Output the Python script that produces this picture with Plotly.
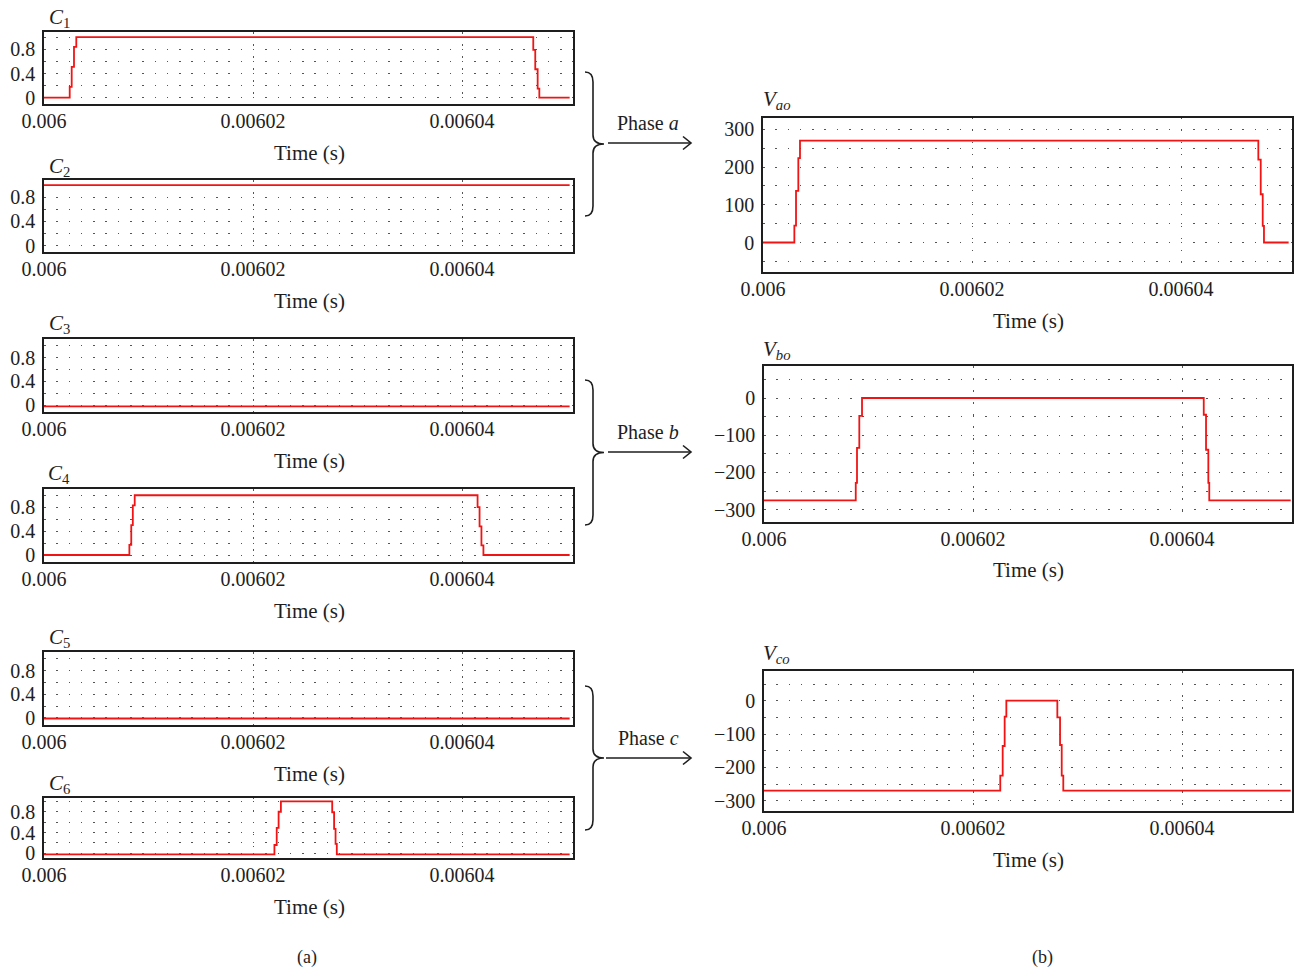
import plotly.graph_objects as go

W, H = 1294, 972
FONT = "Liberation Serif"
RED = "#f01414"
INK = "#1e1e1e"
DOT = "#555555"

# ---------------- data (time in s) ----------------
t_c1 = [0.006, 0.00600246, 0.00600265, 0.00600287, 0.00600309, 0.00604682, 0.00604701, 0.00604724, 0.00604740, 0.0060503]
v_c1 = [0, 0.18, 0.51, 0.84, 1.0, 0.79, 0.47, 0.15, 0, 0]

t_c2 = [0.006, 0.0060503]
v_c2 = [1.0, 1.0]

t_c3 = [0.006, 0.0060503]
v_c3 = [-0.02, -0.02]

t_c4 = [0.006, 0.00600817, 0.00600835, 0.00600850, 0.00600868, 0.00604149, 0.00604168, 0.00604186, 0.00604205, 0.0060503]
v_c4 = [0, 0.17, 0.50, 0.83, 1.0, 0.80, 0.48, 0.16, 0, 0]

t_c5 = [0.006, 0.0060503]
v_c5 = [-0.01, -0.01]

t_c6 = [0.006, 0.00602205, 0.00602227, 0.00602245, 0.00602267, 0.00602758, 0.00602776, 0.00602790, 0.00602802, 0.0060503]
v_c6 = [-0.02, 0.16, 0.49, 0.80, 1.0, 0.79, 0.47, 0.18, -0.02, -0.02]

t_vao = [0.006, 0.00600300, 0.00600316, 0.00600338, 0.00600354, 0.00604740, 0.00604763, 0.00604782, 0.00604794, 0.0060503]
v_vao = [0, 45, 137, 224, 270, 220, 128, 44, 0, 0]

t_vbo = [0.006, 0.00600878, 0.00600890, 0.00600912, 0.00600938, 0.00604208, 0.00604230, 0.00604252, 0.00604261, 0.0060504]
v_vbo = [-275, -228, -134, -48, 0, -45, -139, -228, -275, -275]

t_vco = [0.006, 0.00602261, 0.00602284, 0.00602303, 0.00602319, 0.00602807, 0.00602833, 0.00602849, 0.00602864, 0.0060504]
v_vco = [-270, -225, -136, -48, 0, -50, -133, -225, -270, -270]

x_tickvals = [0.006, 0.00602, 0.00604]
x_ticktext = ["0.006", "0.00602", "0.00604"]

c_tickvals = [0, 0.4, 0.8]
c_ticktext = ["0", "0.4", "0.8"]
vao_tickvals = [0, 100, 200, 300]
vao_ticktext = ["0", "100", "200", "300"]
vneg_tickvals = [0, -100, -200, -300]
vneg_ticktext = ["0", "\u2212100", "\u2212200", "\u2212300"]

# ---------------- panel layout (pixels) ----------------
panels = [
    ("C1", t_c1, v_c1, 44, 573.3, 32, 104.3, [-0.109, 1.086], c_tickvals, c_ticktext, 0.2,
     "<i>C</i><sub>1</sub>", (59, 18), 153),
    ("C2", t_c2, v_c2, 44, 573.3, 180, 252, [-0.104, 1.083], c_tickvals, c_ticktext, 0.2,
     "<i>C</i><sub>2</sub>", (59, 167), 301),
    ("C3", t_c3, v_c3, 44, 573.3, 339.3, 411.7, [-0.11, 1.11], c_tickvals, c_ticktext, 0.2,
     "<i>C</i><sub>3</sub>", (59, 324), 461),
    ("C4", t_c4, v_c4, 44, 573.3, 489.3, 562, [-0.117, 1.10], c_tickvals, c_ticktext, 0.2,
     "<i>C</i><sub>4</sub>", (59, 474), 611),
    ("C5", t_c5, v_c5, 44, 573.3, 652.3, 725, [-0.12, 1.11], c_tickvals, c_ticktext, 0.2,
     "<i>C</i><sub>5</sub>", (59, 638), 774),
    ("C6", t_c6, v_c6, 44, 573.3, 797.7, 858.3, [-0.096, 1.07], c_tickvals, c_ticktext, 0.2,
     "<i>C</i><sub>6</sub>", (59, 784), 907),
    ("Vao", t_vao, v_vao, 763, 1292, 117.7, 272.3, [-79, 331], vao_tickvals, vao_ticktext, 50,
     "<i>V<sub>ao</sub></i>", (777, 100), 321),
    ("Vbo", t_vbo, v_vbo, 764, 1292, 366, 522, [-333, 86], vneg_tickvals, vneg_ticktext, 50,
     "<i>V<sub>bo</sub></i>", (777, 350), 570),
    ("Vco", t_vco, v_vco, 764, 1292, 671, 811, [-331, 89], vneg_tickvals, vneg_ticktext, 50,
     "<i>V<sub>co</sub></i>", (776, 654), 860),
]

ROW_DASH = "1.5px,10.79px"
COL_DASH = "1.5px,10.5px"

fig = go.Figure()
layout = dict(
    width=W, height=H,
    margin=dict(l=0, r=0, t=0, b=0, pad=0),
    paper_bgcolor="white", plot_bgcolor="white",
    showlegend=False,
    font=dict(family=FONT, size=20, color=INK),
)
annotations = []

def px2x(x):
    return x / W

def px2y(y):
    return 1 - y / H

for i, (name, t, v, x0, x1, ytop, ybot, yr, tv, tt, mdt, title, (tx, ty), tly) in enumerate(panels):
    k = i + 1
    xa = "x" if k == 1 else f"x{k}"
    ya = "y" if k == 1 else f"y{k}"
    xkey = "xaxis" if k == 1 else f"xaxis{k}"
    ykey = "yaxis" if k == 1 else f"yaxis{k}"
    fig.add_trace(go.Scatter(x=t, y=v, mode="lines", line=dict(color=RED, width=1.8, shape="hv"),
                             xaxis=xa, yaxis=ya, hoverinfo="skip"))
    xr = [0.006, 0.006 + (x1 - x0) / 209.0 * 2e-5]
    layout[xkey] = dict(
        domain=[px2x(x0), px2x(x1)], anchor=ya, range=xr, automargin=False,
        tickvals=x_tickvals, ticktext=x_ticktext, ticks="",
        showgrid=True, gridcolor=DOT, gridwidth=1.2, griddash=COL_DASH,
        showline=True, mirror=True, linecolor=INK, linewidth=1.6,
        zeroline=False, ticklabelstandoff=-2,
        tickfont=dict(family=FONT, size=20, color=INK),
    )
    layout[ykey] = dict(
        domain=[px2y(ybot), px2y(ytop)], anchor=xa, range=yr, automargin=False,
        tickvals=tv, ticktext=tt, ticks="",
        showgrid=True, gridcolor=DOT, gridwidth=1.2, griddash=ROW_DASH,
        minor=dict(dtick=mdt, tick0=0, showgrid=True, gridcolor=DOT, gridwidth=1.2, griddash=ROW_DASH, ticks=""),
        showline=True, mirror=True, linecolor=INK, linewidth=1.6,
        zeroline=False, ticklabelstandoff=3,
        tickfont=dict(family=FONT, size=20, color=INK),
    )
    annotations.append(dict(text=title, x=px2x(tx), y=px2y(ty), xref="paper", yref="paper",
                            showarrow=False, xanchor="center", yanchor="middle",
                            font=dict(family=FONT, size=21, color=INK)))
    cx = 309 if x0 < 400 else 1028
    annotations.append(dict(text="Time (s)", x=px2x(cx), y=px2y(tly), xref="paper", yref="paper",
                            showarrow=False, xanchor="center", yanchor="middle",
                            font=dict(family=FONT, size=21, color=INK)))

shapes = []

def P(x, y):
    return f"{px2x(x):.6f},{px2y(y):.6f}"

def brace(top, bot, xs=585, xsp=593, xt=604):
    mid = (top + bot) / 2
    return ("M " + P(xs, top) + " Q " + P(xsp, top) + " " + P(xsp, top + 10) +
            " L " + P(xsp, mid - 9) + " Q " + P(xsp, mid) + " " + P(xt, mid) +
            " Q " + P(xsp, mid) + " " + P(xsp, mid + 9) +
            " L " + P(xsp, bot - 10) + " Q " + P(xsp, bot) + " " + P(xs, bot))

phase_items = [("Phase <i>a</i>", 72, 216, 143, 608), ("Phase <i>b</i>", 380, 525, 452, 608), ("Phase <i>c</i>", 686, 830, 758, 606)]
for label, top, bot, ay, ax0 in phase_items:
    shapes.append(dict(type="path", xref="paper", yref="paper", path=brace(top, bot),
                       line=dict(color=INK, width=1.6)))
    shapes.append(dict(type="line", xref="paper", yref="paper", x0=px2x(ax0), x1=px2x(691),
                       y0=px2y(ay), y1=px2y(ay), line=dict(color=INK, width=1.6)))
    shapes.append(dict(type="path", xref="paper", yref="paper",
                       path="M " + P(683, ay - 6.5) + " L " + P(691, ay) + " L " + P(683, ay + 6.5),
                       line=dict(color=INK, width=1.6)))
    annotations.append(dict(text=label, x=px2x(648), y=px2y(ay - 20), xref="paper", yref="paper",
                            showarrow=False, xanchor="center", yanchor="middle",
                            font=dict(family=FONT, size=20, color=INK)))

annotations.append(dict(text="(a)", x=px2x(307), y=px2y(957), xref="paper", yref="paper",
                        showarrow=False, xanchor="center", yanchor="middle",
                        font=dict(family=FONT, size=18, color=INK)))
annotations.append(dict(text="(b)", x=px2x(1042), y=px2y(957), xref="paper", yref="paper",
                        showarrow=False, xanchor="center", yanchor="middle",
                        font=dict(family=FONT, size=18, color=INK)))

layout["annotations"] = annotations
layout["shapes"] = shapes
fig.update_layout(**layout)
fig.write_html("out.html", config={"displayModeBar": False},
               post_script="document.body.style.margin='0px';")
